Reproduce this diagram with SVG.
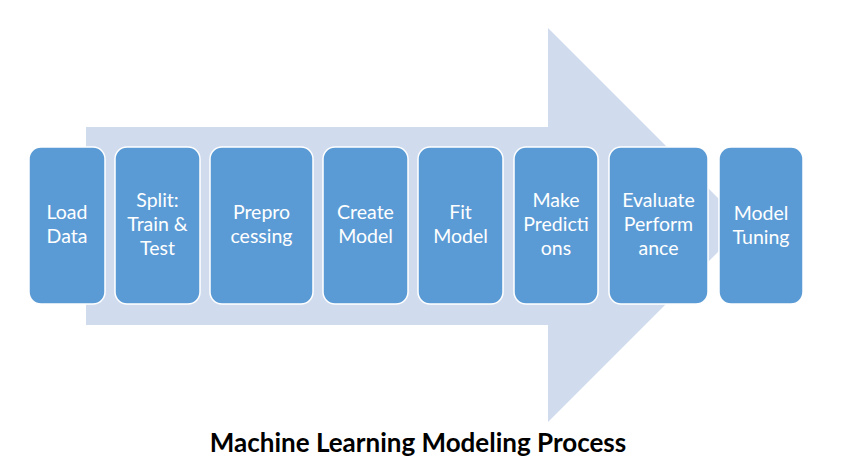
<svg xmlns="http://www.w3.org/2000/svg" width="841" height="473" viewBox="0 0 841 473">
<style>
.box{fill:#5B9BD5;stroke:#FFFFFF;stroke-width:1.5}
.t{font-family:Lato,"Open Sans","Liberation Sans",sans-serif;font-size:19.5px;fill:#FFFFFF;text-anchor:middle}
.title{font-family:Lato,"Open Sans","Liberation Sans",sans-serif;font-size:26px;font-weight:bold;fill:#000000;text-anchor:middle}
</style>
<rect width="841" height="473" fill="#FFFFFF"/>
<g id="connectors">
<polygon points="86,127 548,127 548,28 745,225 548,422 548,325 86,325" fill="#D0DCEE"/>
</g>
<g id="n1"><rect class="box" x="29" y="147" width="76" height="157" rx="12"/><text class="t" x="67" y="219">Load</text><text class="t" x="67" y="243">Data</text></g>
<g id="n2"><rect class="box" x="115" y="147" width="85" height="157" rx="12"/><text class="t" x="157.5" y="207">Split:</text><text class="t" x="157.5" y="231">Train &amp;</text><text class="t" x="157.5" y="255">Test</text></g>
<g id="n3"><rect class="box" x="210" y="147" width="103" height="157" rx="12"/><text class="t" x="261.5" y="219">Prepro</text><text class="t" x="261.5" y="243">cessing</text></g>
<g id="n4"><rect class="box" x="323" y="147" width="85" height="157" rx="12"/><text class="t" x="365.5" y="219">Create</text><text class="t" x="365.5" y="243">Model</text></g>
<g id="n5"><rect class="box" x="418" y="147" width="85" height="157" rx="12"/><text class="t" x="460.5" y="219">Fit</text><text class="t" x="460.5" y="243">Model</text></g>
<g id="n6"><rect class="box" x="514" y="147" width="84" height="157" rx="12"/><text class="t" x="556" y="207">Make</text><text class="t" x="556" y="231">Predicti</text><text class="t" x="556" y="255">ons</text></g>
<g id="n7"><rect class="box" x="609" y="147" width="99" height="157" rx="12"/><text class="t" x="658.5" y="207">Evaluate</text><text class="t" x="658.5" y="231">Perform</text><text class="t" x="658.5" y="255">ance</text></g>
<g id="n8"><rect class="box" x="719" y="147" width="84" height="157" rx="12"/><text class="t" x="761" y="220">Model</text><text class="t" x="761" y="244">Tuning</text></g>
<text class="title" x="418" y="452">Machine Learning Modeling Process</text>
</svg>
